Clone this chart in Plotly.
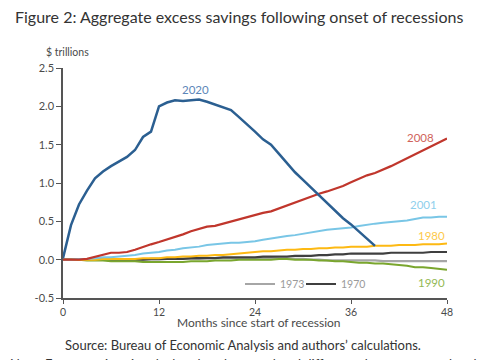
import plotly.graph_objects as go

months_48 = list(range(49))
months_2020 = list(range(40))

s2020 = [0.02, 0.45, 0.72, 0.90, 1.06, 1.15, 1.22, 1.28, 1.34, 1.43,
         1.60, 1.67, 2.00, 2.05, 2.08, 2.07, 2.08, 2.09, 2.06, 2.02,
         1.98, 1.95, 1.86, 1.77, 1.67, 1.57, 1.50, 1.38, 1.26, 1.14,
         1.04, 0.94, 0.83, 0.73, 0.63, 0.54, 0.46, 0.37, 0.28, 0.18]

s2008 = [0, 0, 0, 0.01, 0.04, 0.07, 0.09, 0.09, 0.10, 0.13,
         0.17, 0.20, 0.23, 0.26, 0.29, 0.33, 0.37, 0.40, 0.43, 0.44,
         0.47, 0.49, 0.52, 0.55, 0.58, 0.61, 0.63, 0.67, 0.71, 0.75,
         0.78, 0.82, 0.86, 0.89, 0.92, 0.96, 1.01, 1.06, 1.10, 1.13,
         1.17, 1.22, 1.27, 1.32, 1.37, 1.43, 1.47, 1.53, 1.58]

s2001 = [0, 0, 0.01, 0.01, 0.02, 0.03, 0.03, 0.04, 0.05, 0.06,
         0.08, 0.09, 0.10, 0.12, 0.13, 0.15, 0.16, 0.17, 0.19, 0.20,
         0.21, 0.22, 0.22, 0.23, 0.24, 0.26, 0.28, 0.30, 0.31, 0.32,
         0.34, 0.36, 0.37, 0.39, 0.40, 0.41, 0.42, 0.44, 0.46, 0.47,
         0.48, 0.49, 0.50, 0.51, 0.53, 0.55, 0.55, 0.56, 0.56]

s1980 = [0, 0, 0, 0, 0, 0.01, 0.01, 0.01, 0.01, 0.01,
         0.02, 0.02, 0.02, 0.03, 0.03, 0.04, 0.04, 0.05, 0.05, 0.06,
         0.06, 0.07, 0.08, 0.09, 0.10, 0.11, 0.11, 0.12, 0.13, 0.13,
         0.14, 0.14, 0.15, 0.15, 0.16, 0.16, 0.17, 0.17, 0.17, 0.18,
         0.18, 0.18, 0.19, 0.19, 0.19, 0.20, 0.20, 0.20, 0.21]

s1970 = [0, 0, 0, 0, 0, 0, 0, 0, 0, 0,
         0, 0.01, 0.01, 0.01, 0.01, 0.01, 0.02, 0.02, 0.02, 0.02,
         0.03, 0.03, 0.03, 0.03, 0.03, 0.04, 0.04, 0.04, 0.04, 0.05,
         0.05, 0.05, 0.06, 0.06, 0.07, 0.07, 0.08, 0.08, 0.08, 0.08,
         0.08, 0.09, 0.09, 0.09, 0.09, 0.09, 0.10, 0.10, 0.10]

s1973 = [0, 0, 0, 0, 0, 0, 0, 0, 0, 0,
         0, 0, 0, 0.01, 0.01, 0.01, 0.01, 0.01, 0.02, 0.02,
         0.02, 0.02, 0.02, 0.02, 0.02, 0.02, 0.02, 0.01, 0.01, 0.01,
         0.01, 0, 0, -0.01, -0.01, -0.01, -0.01, -0.01, -0.01, -0.01,
         -0.02, -0.02, -0.02, -0.02, -0.02, -0.02, -0.02, -0.02, -0.02]

s1990 = [0, 0, 0, -0.01, -0.01, -0.01, -0.02, -0.02, -0.02, -0.02,
         -0.03, -0.03, -0.03, -0.03, -0.03, -0.03, -0.02, -0.02, -0.02, -0.01,
         -0.01, -0.01, 0, 0, 0, 0, 0, 0.01, 0.01, 0,
         0, 0, -0.01, -0.01, -0.02, -0.02, -0.03, -0.04, -0.04, -0.05,
         -0.05, -0.06, -0.07, -0.08, -0.10, -0.10, -0.11, -0.12, -0.13]

x_ticks = [0, 12, 24, 36, 48]
y_ticks = [-0.5, 0.0, 0.5, 1.0, 1.5, 2.0, 2.5]

FONT = "Lato"
TXT = "#4a4a4a"

# page body has an 8px margin: size the figure to fill the rest of the window
W, H = 477, 352
L, T, PW, PH = 55, 60, 384, 230
R, B = W - L - PW, H - T - PH


def ref_to_paper(px, py):
    """convert window pixel position to plot-domain paper coords"""
    return (px - 63) / PW, (298 - py) / PH


series = [
    ("1973", months_48, s1973, "#a6a6a6", 2.2, "legend"),
    ("1970", months_48, s1970, "#3f3f3f", 2.2, "legend2"),
    ("1990", months_48, s1990, "#7aa62e", 2.0, None),
    ("1980", months_48, s1980, "#fdb913", 2.0, None),
    ("2001", months_48, s2001, "#79c6e6", 2.0, None),
    ("2008", months_48, s2008, "#c0362c", 2.2, None),
    ("2020", months_2020, s2020, "#2b5f91", 2.5, None),
]

fig = go.Figure()
for name, xs, ys, color, w, leg in series:
    kw = dict(showlegend=False)
    if leg:
        kw = dict(showlegend=True, legend=leg)
    fig.add_trace(go.Scatter(x=xs, y=ys, mode="lines", name=name,
                             line=dict(color=color, width=w),
                             hoverinfo="skip", **kw))

labels = [
    ("2020", 16.5, 2.22, "#5b86b8"),
    ("2008", 44.7, 1.60, "#d0645b"),
    ("2001", 45.0, 0.72, "#8fd0ec"),
    ("1980", 46.1, 0.32, "#fdc94a"),
    ("1990", 46.1, -0.30, "#93b954"),
]

leg_font = dict(family=FONT, size=10.5, color="#9a9a9a")
l1x, ly = ref_to_paper(240, 284)
l2x, _ = ref_to_paper(301, 284)

fig.update_layout(
    width=W, height=H,
    margin=dict(l=L, r=R, t=T, b=B),
    paper_bgcolor="white", plot_bgcolor="white",
    font=dict(family=FONT, color=TXT, size=11),
    title=dict(text="Figure 2: Aggregate excess savings following onset of recessions",
               x=7 / W, xanchor="left", y=1 - 9.5 / H, yanchor="middle",
               font=dict(family=FONT, size=16, color="#333333")),
    legend=dict(orientation="h", x=l1x, y=ly, xanchor="left", yanchor="middle",
                bgcolor="rgba(0,0,0,0)", itemwidth=30, font=leg_font),
    legend2=dict(orientation="h", x=l2x, y=ly, xanchor="left", yanchor="middle",
                 bgcolor="rgba(0,0,0,0)", itemwidth=30, font=leg_font),
    xaxis=dict(range=[0, 48], tickvals=x_ticks, ticktext=[str(v) for v in x_ticks],
               showgrid=False, zeroline=False, showline=True, linecolor="#555555",
               linewidth=1.5, ticks="outside", ticklen=4, tickcolor="#555555",
               tickfont=dict(family=FONT, size=10.5, color=TXT)),
    yaxis=dict(range=[-0.5, 2.5], tickvals=y_ticks,
               ticktext=[f"{v:.1f}" for v in y_ticks],
               showgrid=False, zeroline=False, showline=True, linecolor="#555555",
               linewidth=1.5, ticks="outside", ticklen=5, tickcolor="#555555",
               tickfont=dict(family=FONT, size=11, color=TXT)),
)

for t, x, y, c in labels:
    fig.add_annotation(x=x, y=y, xref="x", yref="y", text=t, showarrow=False,
                       font=dict(family=FONT, size=11.5, color=c))

tx, ty = ref_to_paper(44, 52)
fig.add_annotation(x=tx, y=ty, xref="paper", yref="paper", text="$ trillions",
                   showarrow=False, xanchor="left", yanchor="middle",
                   font=dict(family=FONT, size=10.5, color=TXT))

ax, ay = ref_to_paper(259, 322.5)
fig.add_annotation(x=ax, y=ay, xref="paper", yref="paper",
                   text="Months since start of recession", showarrow=False,
                   xanchor="center", yanchor="middle",
                   font=dict(family=FONT, size=12, color=TXT))

sx, sy = ref_to_paper(243, 345)
fig.add_annotation(x=sx, y=sy, xref="paper", yref="paper",
                   text="Source: Bureau of Economic Analysis and authors\u2019 calculations.",
                   showarrow=False, xanchor="center", yanchor="middle",
                   font=dict(family=FONT, size=13, color="#333333"))

nx, ny = ref_to_paper(243, 364)
fig.add_annotation(x=nx, y=ny, xref="paper", yref="paper",
                   text="Note: Excess savings is calculated as the cumulated difference between actual and",
                   showarrow=False, xanchor="center", yanchor="middle",
                   font=dict(family=FONT, size=13, color="#333333"))

fig.write_html("out.html")
